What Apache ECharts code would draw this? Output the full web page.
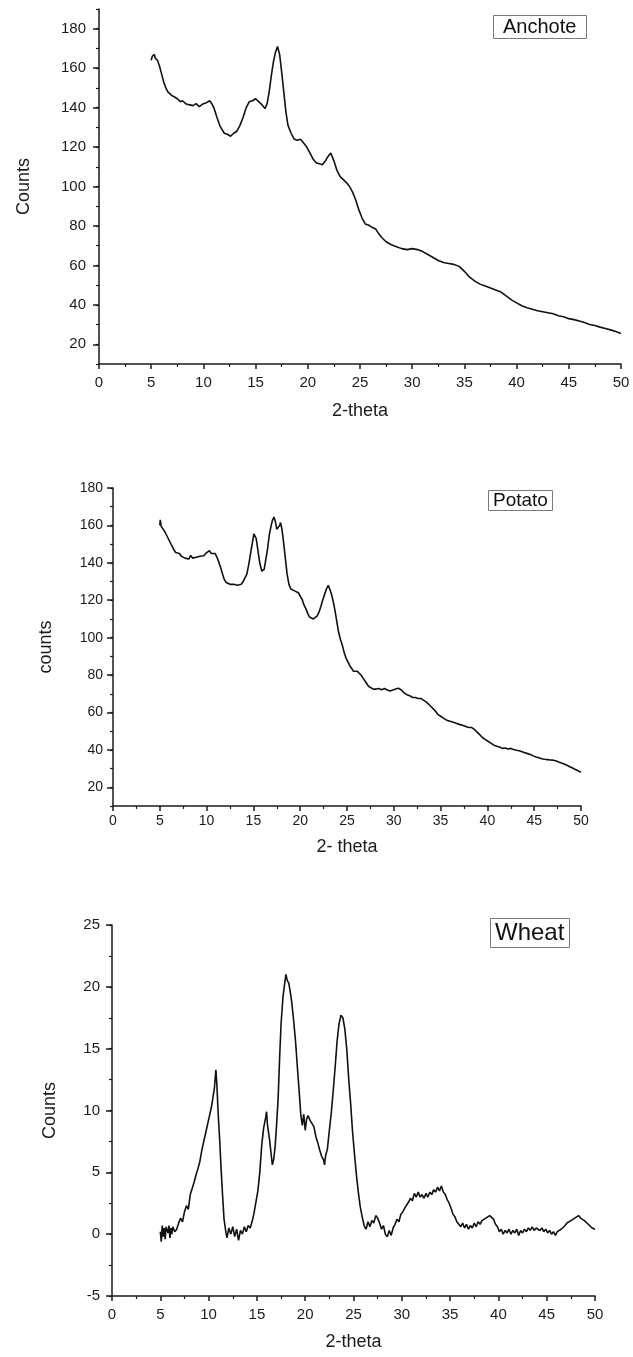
<!DOCTYPE html>
<html>
<head>
<meta charset="utf-8">
<script src="https://cdn.jsdelivr.net/npm/echarts@6/dist/echarts.min.js"></script>
<style>
html, body { margin: 0; padding: 0; background: #fff; }
#main { width: 633px; height: 1357px; }
</style>
</head>
<body>
<div id="main"></div>
<script>
// XRD patterns: [2-theta, counts]
var anchotePattern = [
  [5.0,164],[5.1,166],[5.2,165],[5.3,167],[5.4,165],[5.5,166],[5.6,164],[5.8,161],[6.0,157],[6.2,153],
  [6.4,150],[6.6,148],[6.8,147],[7.0,146],[7.2,145.5],[7.5,144.5],[7.8,143],[8.0,143.5],[8.3,142],[8.6,141.5],
  [9.0,141],[9.3,142],[9.6,140.5],[10.0,142],[10.3,142.5],[10.6,143.5],[10.8,142],[11.0,140],[11.3,135],[11.6,130.5],
  [12.0,127],[12.3,126.5],[12.6,125.5],[12.9,127],[13.2,128],[13.5,131],[13.8,135],[14.1,140],[14.4,143],[14.7,143.5],
  [15.0,144.5],[15.3,143],[15.6,141.5],[15.9,139.5],[16.1,142],[16.3,148],[16.5,156],[16.7,163],[16.9,168],[17.1,171],
  [17.3,167],[17.5,158],[17.7,148],[17.9,138],[18.1,131],[18.4,127],[18.7,124],[19.0,123.5],[19.3,124],[19.6,122],
  [19.9,120],[20.2,117],[20.5,114],[20.8,112],[21.1,111.5],[21.4,111],[21.7,113],[21.9,115],[22.2,117],[22.5,113],
  [22.8,108],[23.1,105],[23.4,103.5],[23.7,102],[24.0,100],[24.3,97],[24.6,93],[24.9,88],[25.2,84],[25.5,81],
  [25.8,80.5],[26.1,79.5],[26.5,78.5],[26.8,76],[27.1,74],[27.5,72],[28.0,70.5],[28.5,69.5],[29.0,68.5],[29.5,68],
  [30.0,68.5],[30.5,68],[31.0,67],[31.5,65.5],[32.0,64],[32.5,62.5],[33.0,61.5],[33.5,61],[34.0,60.5],[34.5,59.5],
  [35.0,57],[35.5,54],[36.0,52],[36.5,50.5],[37.0,49.5],[37.5,48.5],[38.0,47.5],[38.5,46.5],[39.0,44.5],[39.5,42.5],
  [40.0,41],[40.5,39.5],[41.0,38.5],[41.5,37.8],[42.0,37],[42.5,36.5],[43.0,36],[43.5,35.5],[44.0,34.5],[44.5,34],
  [45.0,33],[45.5,32.5],[46.0,31.8],[46.5,31],[47.0,30],[47.5,29.5],[48.0,28.7],[48.5,28],[49.0,27.3],[49.5,26.5],
  [50.0,25.5]
];

var potatoPattern = [
  [5.0,160],[5.05,163],[5.15,159.5],[5.3,158.5],[5.5,157],[5.7,155],[5.9,153],[6.1,151],[6.3,149],[6.5,147],
  [6.7,145.5],[6.9,144.5],[7.1,145],[7.3,143.5],[7.5,144],[7.7,142.5],[7.9,143.5],[8.1,142],[8.3,144],[8.5,142.5],
  [8.7,143.5],[8.9,143],[9.1,144],[9.3,143.5],[9.5,144.5],[9.7,143.8],[9.9,145],[10.1,144.5],[10.3,146.5],[10.5,145],
  [10.7,145.5],[10.9,145],[11.1,143],[11.3,140.5],[11.5,137.5],[11.7,134],[11.9,131],[12.1,129.5],[12.3,130],[12.5,128.5],
  [12.7,129.5],[12.9,128.5],[13.1,129],[13.3,128],[13.5,129],[13.7,128.5],[13.9,130],[14.1,131],[14.3,134],[14.5,139],
  [14.7,145],[14.9,151],[15.05,155.5],[15.15,156.5],[15.3,153],[15.5,146],[15.7,139.5],[15.9,135.5],[16.0,134.5],[16.15,136.5],
  [16.3,141],[16.5,147],[16.7,155],[16.9,160],[17.05,163],[17.2,164.5],[17.35,162],[17.5,158],[17.65,157],[17.8,160],
  [17.9,161.5],[18.05,158],[18.2,152],[18.4,143],[18.6,134],[18.8,128.5],[19.0,126],[19.2,125.5],[19.4,125],[19.6,124.5],
  [19.8,124],[20.0,123],[20.2,120.5],[20.4,117.5],[20.6,115.5],[20.8,113],[21.0,111],[21.2,110.5],[21.4,110],[21.6,111],
  [21.8,111.5],[22.0,113.5],[22.2,116.5],[22.4,120],[22.6,123],[22.8,126],[23.0,128],[23.15,127],[23.3,124],[23.5,120],
  [23.7,115],[23.9,109],[24.1,103],[24.3,99],[24.5,96],[24.7,92],[24.9,89],[25.1,87],[25.3,85],[25.5,83.5],
  [25.7,82],[25.9,81.5],[26.1,82],[26.3,81],[26.5,80],[26.7,78.5],[26.9,77.5],[27.1,75.5],[27.3,74],[27.5,73],
  [27.8,72.5],[28.1,72.5],[28.4,72.8],[28.7,72.2],[29.0,72.8],[29.3,72],[29.6,71.5],[29.9,72],[30.2,72.5],[30.5,73],
  [30.8,72],[31.1,70.5],[31.4,69.5],[31.7,69],[32.0,68],[32.3,68],[32.6,67.5],[32.9,67.5],[33.2,66.5],[33.5,65.5],
  [33.8,64],[34.1,62.5],[34.4,61],[34.7,59],[35.0,58],[35.3,57],[35.6,56],[35.9,55.5],[36.2,55],[36.5,54.5],
  [36.8,54],[37.1,53.5],[37.4,53],[37.7,52.5],[38.0,52],[38.3,52],[38.6,51],[38.9,49.5],[39.2,48],[39.5,46.5],
  [39.8,45.5],[40.1,44.5],[40.4,43.5],[40.7,42.5],[41.0,42],[41.3,41.5],[41.6,40.8],[41.9,41],[42.2,40.5],[42.5,40.8],
  [42.8,40.2],[43.1,39.8],[43.4,39.5],[43.7,39],[44.0,38.5],[44.3,38],[44.6,37.5],[44.9,36.8],[45.2,36.2],[45.5,35.8],
  [45.8,35.3],[46.1,35],[46.4,34.8],[46.7,34.6],[47.0,34.5],[47.3,34.2],[47.6,33.5],[47.9,33],[48.2,32.5],[48.5,31.8],
  [48.8,31],[49.1,30.3],[49.4,29.5],[49.7,28.8],[50.0,28]
];

var wheatPattern = [
  [5.0,0.2],[5.1,-0.6],[5.2,0.7],[5.3,-0.2],[5.4,0.5],[5.5,-0.4],[5.6,0.6],[5.8,0.1],[5.9,0.7],[6.0,-0.3],
  [6.1,0.5],[6.2,0.0],[6.3,0.6],[6.5,0.2],[6.7,0.4],[6.9,0.9],[7.1,1.3],[7.3,1.0],[7.5,1.8],[7.7,2.3],
  [7.9,2.0],[8.1,3.2],[8.3,3.7],[8.5,4.2],[8.7,4.8],[8.9,5.3],[9.1,5.9],[9.3,6.8],[9.5,7.5],[9.7,8.2],
  [9.9,8.9],[10.1,9.6],[10.3,10.3],[10.5,11.3],[10.6,11.8],[10.75,13.3],[10.85,12.2],[11.0,9.6],[11.15,7.6],[11.3,5.2],
  [11.45,3.1],[11.6,1.2],[11.8,0.1],[11.9,-0.3],[12.1,0.5],[12.3,0.0],[12.5,0.6],[12.7,-0.2],[12.9,0.4],[13.1,-0.5],
  [13.3,0.3],[13.5,0.0],[13.7,0.6],[13.9,0.2],[14.1,0.7],[14.3,0.5],[14.5,1.0],[14.7,1.7],[14.9,2.6],[15.1,3.5],
  [15.3,5.0],[15.5,7.2],[15.7,8.6],[15.9,9.4],[16.0,9.9],[16.1,8.8],[16.3,7.7],[16.5,6.3],[16.6,5.6],[16.75,6.1],
  [16.9,7.2],[17.05,9.0],[17.2,11.0],[17.35,14.2],[17.5,17.0],[17.7,19.2],[17.9,20.4],[18.0,21.0],[18.15,20.5],[18.3,20.3],
  [18.45,19.6],[18.6,18.8],[18.8,17.3],[19.0,15.6],[19.2,13.4],[19.4,11.3],[19.55,9.6],[19.7,8.8],[19.85,9.7],[20.0,8.4],
  [20.15,9.3],[20.3,9.6],[20.5,9.2],[20.7,9.3],[20.9,8.7],[21.1,7.9],[21.3,7.4],[21.5,6.8],[21.7,6.3],[21.9,6.0],
  [22.0,5.6],[22.1,6.3],[22.3,6.9],[22.5,8.4],[22.7,9.8],[22.9,11.6],[23.1,13.5],[23.3,15.6],[23.5,17.0],[23.7,17.7],
  [23.9,17.5],[24.1,16.6],[24.3,15.0],[24.5,12.6],[24.7,10.6],[24.9,8.3],[25.1,6.5],[25.3,4.8],[25.5,3.4],[25.7,2.2],
  [25.9,1.4],[26.1,0.7],[26.3,0.4],[26.5,1.0],[26.7,0.6],[26.9,1.1],[27.1,0.9],[27.3,1.5],[27.5,1.3],[27.7,0.9],
  [27.9,0.4],[28.1,0.7],[28.3,0.0],[28.5,-0.2],[28.7,0.3],[28.9,-0.1],[29.1,0.5],[29.3,0.8],[29.5,1.2],[29.7,1.0],
  [29.9,1.6],[30.1,1.8],[30.3,2.1],[30.5,2.0],[30.7,2.6],[30.9,2.9],[31.1,2.7],[31.3,3.3],[31.5,3.0],[31.7,3.4],
  [31.9,3.0],[32.1,3.2],[32.3,2.9],[32.5,3.3],[32.7,3.0],[32.9,3.4],[33.1,3.2],[33.3,3.6],[33.5,3.4],[33.7,3.8],
  [33.9,3.5],[34.1,3.9],[34.3,3.4],[34.5,3.2],[34.7,2.8],[34.9,2.5],[35.1,2.1],[35.3,1.6],[35.5,1.4],[35.7,1.0],
  [35.9,0.9],[36.1,0.6],[36.3,0.9],[36.5,0.5],[36.7,0.8],[36.9,0.4],[37.1,0.7],[37.3,0.5],[37.5,0.9],[37.7,0.6],
  [37.9,1.0],[38.1,0.8],[38.3,1.1],[38.5,1.0],[38.7,1.3],[38.9,1.2],[39.1,1.5],[39.3,1.6],[39.5,1.2],[39.7,0.8],
  [39.9,0.6],[40.1,0.2],[40.3,0.4],[40.5,0.0],[40.7,0.3],[40.9,0.1],[41.1,0.4],[41.3,0.0],[41.5,0.3],[41.7,0.1],
  [41.9,0.4],[42.1,-0.1],[42.3,0.3],[42.5,0.1],[42.7,0.4],[42.9,0.2],[43.1,0.5],[43.3,0.3],[43.5,0.6],[43.7,0.3],
  [43.9,0.5],[44.1,0.6],[44.3,0.3],[44.5,0.5],[44.7,0.2],[44.9,0.4],[45.1,0.1],[45.3,0.3],[45.5,0.0],[45.7,0.2],
  [45.9,-0.1],[46.1,0.2],[46.3,0.1],[46.5,0.4],[46.7,0.5],[46.9,0.7],[47.1,0.9],[47.3,0.8],[47.5,1.1],[47.7,1.0],
  [47.9,1.3],[48.1,1.2],[48.3,1.5],[48.5,1.3],[48.7,1.4],[48.9,1.1],[49.1,1.0],[49.3,0.8],[49.5,0.7],[49.7,0.5],
  [49.9,0.6],[50.0,0.4]
];

// labelled y ticks of each panel
var countTicks = [20, 40, 60, 80, 100, 120, 140, 160, 180];
var wheatTicks = [-5, 0, 5, 10, 15, 20, 25];

var FONT = '"Liberation Sans", Arial, Helvetica, sans-serif';
var INK = '#1b1b1b';

var panels = [
  { name: 'Anchote', data: anchotePattern, grid: { left: 99, top: 9, width: 522, height: 355 },
    yMin: 10, yMax: 190, yMinor: 10, yTicks: countTicks, yName: 'Counts', xName: '2-theta',
    yNameGap: 66, xNameGap: 38, tickFont: 15, yMargin: 13, xMargin: 11,
    box: { left: 493, top: 15, size: 20, pad: [2, 10] } },
  { name: 'Potato', data: potatoPattern, grid: { left: 113, top: 488, width: 468, height: 318 },
    yMin: 10, yMax: 180, yMinor: 10, yTicks: countTicks, yName: 'counts', xName: '2- theta',
    yNameGap: 58, xNameGap: 32, tickFont: 14, yMargin: 10, xMargin: 8,
    box: { left: 488, top: 490, size: 19, pad: [1, 5] } },
  { name: 'Wheat', data: wheatPattern, grid: { left: 112, top: 925, width: 483, height: 371 },
    yMin: -5, yMax: 25, yMinor: 2.5, yTicks: wheatTicks, yName: 'Counts', xName: '2-theta',
    yNameGap: 53, xNameGap: 37, tickFont: 15, yMargin: 12, xMargin: 11,
    box: { left: 490, top: 918, size: 24, pad: [3, 5] } }
];

var lineStyleAxis = { color: INK, width: 1.5 };
var grids = [], xAxes = [], yAxes = [], series = [], titles = [];

panels.forEach(function (p, i) {
  grids.push(p.grid);

  xAxes.push({
    type: 'value', gridIndex: i, min: 0, max: 50, interval: 5,
    name: p.xName, nameLocation: 'middle', nameGap: p.xNameGap,
    nameTextStyle: { fontSize: 18, color: INK, fontFamily: FONT },
    axisLine: { onZero: false, lineStyle: lineStyleAxis },
    axisTick: { length: 5, lineStyle: lineStyleAxis },
    minorTick: { show: true, splitNumber: 2, length: 3, lineStyle: { color: INK, width: 1.2 } },
    axisLabel: { fontSize: p.tickFont, color: INK, fontFamily: FONT, margin: p.xMargin },
    splitLine: { show: false }, minorSplitLine: { show: false }
  });

  // main y axis: line, minor ticks, labels
  yAxes.push({
    type: 'value', gridIndex: i, min: p.yMin, max: p.yMax, interval: p.yMinor,
    name: p.yName, nameLocation: 'middle', nameGap: p.yNameGap, nameRotate: 90,
    nameTextStyle: { fontSize: 18, color: INK, fontFamily: FONT },
    axisLine: { onZero: false, lineStyle: lineStyleAxis },
    axisTick: { length: 3, lineStyle: { color: INK, width: 1.2 } },
    axisLabel: { customValues: p.yTicks, fontSize: p.tickFont, color: INK, fontFamily: FONT, margin: p.yMargin },
    splitLine: { show: false }
  });
  // overlay y axis: only the longer major ticks
  yAxes.push({
    type: 'value', gridIndex: i, min: p.yMin, max: p.yMax, position: 'left', offset: 0,
    axisLine: { show: false },
    axisTick: { show: true, customValues: p.yTicks, length: 6, lineStyle: lineStyleAxis },
    axisLabel: { show: false },
    splitLine: { show: false }
  });

  series.push({
    type: 'line', xAxisIndex: i, yAxisIndex: i * 2, data: p.data,
    showSymbol: false, silent: true,
    lineStyle: { color: '#111', width: 1.6 }
  });

  titles.push({
    text: p.name, left: p.box.left, top: p.box.top,
    borderColor: '#7a7a7a', borderWidth: 1, padding: p.box.pad,
    textStyle: { fontSize: p.box.size, fontWeight: 'normal', color: '#111', fontFamily: FONT }
  });
});

var chartDom = document.getElementById('main');
var myChart = echarts.init(chartDom, null, { renderer: 'canvas' });
var option = {
  backgroundColor: '#ffffff',
  animation: false,
  title: titles,
  grid: grids,
  xAxis: xAxes,
  yAxis: yAxes,
  series: series
};
option && myChart.setOption(option);
</script>
</body>
</html>
